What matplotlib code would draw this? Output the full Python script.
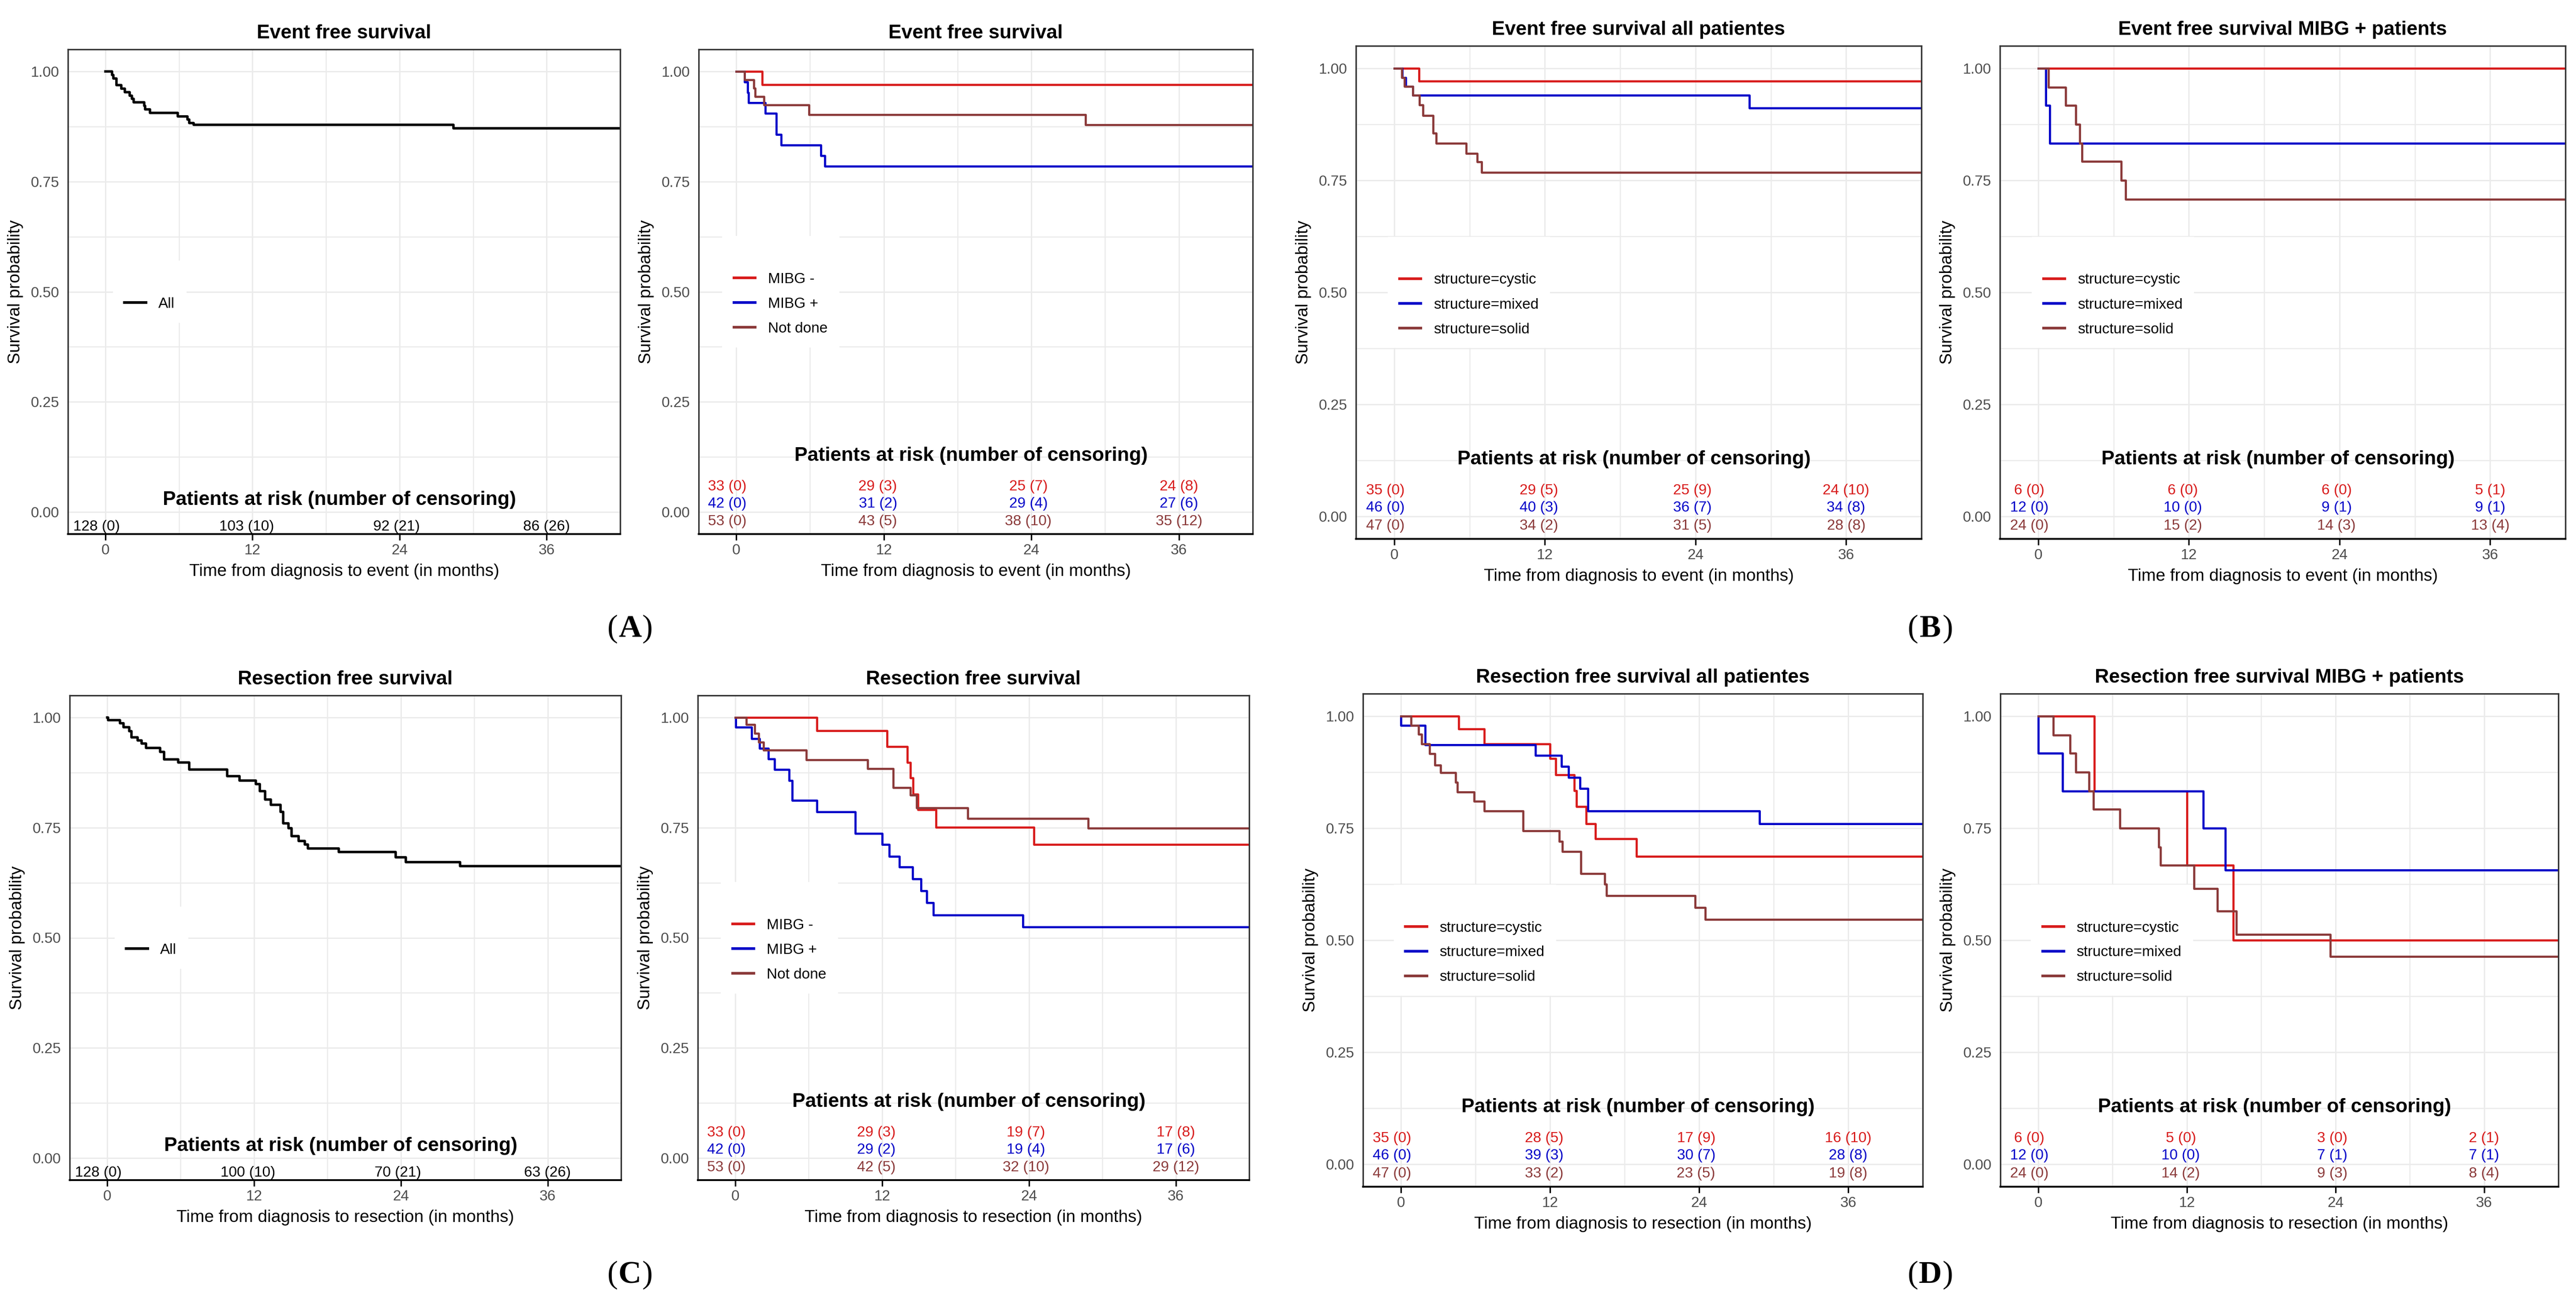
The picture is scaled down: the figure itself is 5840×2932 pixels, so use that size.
import matplotlib
matplotlib.use('Agg')
from matplotlib import pyplot as plt
from matplotlib import transforms

plt.rcParams['font.family'] = ['Liberation Sans', 'DejaVu Sans']

W, H, DPI = 5840, 2932, 200

RED = '#d81c1c'
BLUE = '#0000c8'
BROWN = '#8b3a3a'

MONTHS = [0, 12, 24, 36]

# ---------------- Event free survival ----------------
efs_all_t = [0, 0.55, 0.65, 0.92, 1.32, 1.58, 2.0, 2.15, 2.32, 3.16, 3.26, 3.66, 5.9, 6.7, 6.85, 7.2, 28.4]
efs_all_s = [1, 0.992, 0.984, 0.969, 0.961, 0.953, 0.945, 0.938, 0.930, 0.922, 0.914, 0.906, 0.898, 0.891, 0.883, 0.879, 0.871]

efs_neg_t = [0, 2.1]
efs_neg_s = [1, 0.970]
efs_pos_t = [0, 0.67, 0.93, 1.0, 2.37, 3.27, 3.65, 6.87, 7.2]
efs_pos_s = [1, 0.976, 0.952, 0.929, 0.905, 0.857, 0.833, 0.809, 0.785]
efs_nd_t = [0, 0.67, 1.45, 1.55, 2.27, 5.93, 28.4]
efs_nd_s = [1, 0.981, 0.962, 0.943, 0.924, 0.902, 0.879]

efs_cys_t = [0, 1.96]
efs_cys_s = [1, 0.971]
efs_mix_t = [0, 0.65, 0.92, 1.47, 28.3]
efs_mix_s = [1, 0.979, 0.959, 0.940, 0.911]
efs_sol_t = [0, 0.6, 0.82, 1.47, 2.0, 2.3, 3.1, 3.33, 5.75, 6.6, 6.96]
efs_sol_s = [1, 0.979, 0.959, 0.940, 0.918, 0.895, 0.855, 0.833, 0.810, 0.791, 0.768]

efsp_cys_t = [0]
efsp_cys_s = [1]
efsp_mix_t = [0, 0.6, 0.92]
efsp_mix_s = [1, 0.917, 0.833]
efsp_sol_t = [0, 0.82, 2.2, 3.0, 3.3, 3.5, 6.6, 6.96]
efsp_sol_s = [1, 0.958, 0.917, 0.875, 0.833, 0.792, 0.750, 0.708]

# ---------------- Resection free survival ----------------
rfs_all_t = [0, 0.07, 1.07, 1.33, 1.83, 2.0, 2.5, 2.83, 3.17, 4.33, 4.67, 5.83, 6.73, 9.83, 10.83,
             12.17, 12.5, 12.93, 13.4, 14.17, 14.4, 14.83, 15.07, 15.67, 16.17, 16.4, 18.93, 23.6, 24.43, 28.83]
rfs_all_s = [1, 0.994, 0.987, 0.978, 0.969, 0.955, 0.948, 0.941, 0.931, 0.922, 0.905, 0.898, 0.882, 0.867, 0.857,
             0.849, 0.833, 0.814, 0.802, 0.786, 0.760, 0.749, 0.731, 0.720, 0.712, 0.703, 0.695, 0.683, 0.672, 0.663]

rfs_neg_t = [0, 6.67, 12.4, 14.07, 14.33, 14.53, 14.93, 16.4, 24.4]
rfs_neg_s = [1, 0.970, 0.934, 0.898, 0.863, 0.826, 0.791, 0.751, 0.712]
rfs_pos_t = [0, 0.05, 1.33, 2.0, 2.73, 3.23, 4.4, 4.67, 6.67, 9.83, 12.0, 12.6, 13.43, 14.5, 15.2, 15.67, 16.2, 23.5]
rfs_pos_s = [1, 0.978, 0.952, 0.930, 0.906, 0.882, 0.857, 0.812, 0.786, 0.737, 0.712, 0.685, 0.661, 0.634, 0.607, 0.580, 0.552, 0.525]
rfs_nd_t = [0, 0.93, 1.6, 1.93, 2.33, 5.83, 10.83, 12.93, 14.33, 14.83, 19.0, 28.83]
rfs_nd_s = [1, 0.984, 0.964, 0.944, 0.926, 0.904, 0.884, 0.841, 0.824, 0.795, 0.771, 0.749]

rfs_cys_t = [0, 4.64, 6.72, 11.99, 12.48, 13.97, 14.14, 14.9, 15.66, 18.97]
rfs_cys_s = [1, 0.971, 0.938, 0.905, 0.869, 0.834, 0.798, 0.760, 0.726, 0.687]
rfs_mix_t = [0, 0.02, 1.95, 10.83, 12.91, 13.48, 14.4, 15.07, 28.87]
rfs_mix_s = [1, 0.979, 0.936, 0.912, 0.888, 0.863, 0.838, 0.788, 0.760]
rfs_sol_t = [0, 0.83, 1.42, 1.66, 2.32, 2.72, 3.21, 4.40, 4.54, 5.89, 6.72, 9.83, 12.75, 13.01, 14.5, 16.39, 16.56, 23.68, 24.5]
rfs_sol_s = [1, 0.979, 0.959, 0.938, 0.916, 0.891, 0.874, 0.852, 0.831, 0.810, 0.788, 0.744, 0.720, 0.698, 0.649, 0.625, 0.599, 0.573, 0.546]

rfsp_cys_t = [0, 4.54, 12.0, 15.75]
rfsp_cys_s = [1, 0.833, 0.667, 0.5]
rfsp_mix_t = [0, 0.02, 1.96, 13.33, 15.12]
rfsp_mix_s = [1, 0.917, 0.833, 0.750, 0.656]
rfsp_sol_t = [0, 1.23, 2.59, 3.05, 4.11, 4.48, 6.6, 9.75, 9.88, 12.57, 14.46, 15.99, 23.6]
rfsp_sol_s = [1, 0.958, 0.917, 0.875, 0.833, 0.792, 0.750, 0.708, 0.667, 0.615, 0.565, 0.513, 0.464]

# number at risk (number censored) at 0, 12, 24, 36 months
efs_all_risk = [['128 (0)', '103 (10)', '92 (21)', '86 (26)']]
efs_mibg_risk = [['33 (0)', '29 (3)', '25 (7)', '24 (8)'],
                 ['42 (0)', '31 (2)', '29 (4)', '27 (6)'],
                 ['53 (0)', '43 (5)', '38 (10)', '35 (12)']]
efs_str_risk = [['35 (0)', '29 (5)', '25 (9)', '24 (10)'],
                ['46 (0)', '40 (3)', '36 (7)', '34 (8)'],
                ['47 (0)', '34 (2)', '31 (5)', '28 (8)']]
efsp_str_risk = [['6 (0)', '6 (0)', '6 (0)', '5 (1)'],
                 ['12 (0)', '10 (0)', '9 (1)', '9 (1)'],
                 ['24 (0)', '15 (2)', '14 (3)', '13 (4)']]
rfs_all_risk = [['128 (0)', '100 (10)', '70 (21)', '63 (26)']]
rfs_mibg_risk = [['33 (0)', '29 (3)', '19 (7)', '17 (8)'],
                 ['42 (0)', '29 (2)', '19 (4)', '17 (6)'],
                 ['53 (0)', '42 (5)', '32 (10)', '29 (12)']]
rfs_str_risk = [['35 (0)', '28 (5)', '17 (9)', '16 (10)'],
                ['46 (0)', '39 (3)', '30 (7)', '28 (8)'],
                ['47 (0)', '33 (2)', '23 (5)', '19 (8)']]
rfsp_str_risk = [['6 (0)', '5 (0)', '3 (0)', '2 (1)'],
                 ['12 (0)', '10 (0)', '7 (1)', '7 (1)'],
                 ['24 (0)', '14 (2)', '9 (3)', '8 (4)']]

mibg_labels = ['MIBG -', 'MIBG +', 'Not done']
str_labels = ['structure=cystic', 'structure=mixed', 'structure=solid']
group_colors = [RED, BLUE, BROWN]

fig = plt.figure(figsize=(W / DPI, H / DPI), dpi=DPI)


def km_panel(rect, title, xlabel, curves, labels, colors, risk, leg_x):
    x0, y0, x1, y1 = rect
    ax = fig.add_axes([x0 / W, 1 - y1 / H, (x1 - x0) / W, (y1 - y0) / H])
    ax.set_xlim(-3.05, 42.0)
    ax.set_ylim(-0.05, 1.05)
    ax.set_xticks(MONTHS)
    ax.set_xticks([6, 18, 30], minor=True)
    ax.set_yticks([0, 0.25, 0.5, 0.75, 1.0])
    ax.set_yticklabels(['0.00', '0.25', '0.50', '0.75', '1.00'])
    ax.set_yticks([0.125, 0.375, 0.625, 0.875], minor=True)
    ax.grid(which='major', color='#ebebeb', lw=1.1)
    ax.grid(which='minor', color='#ebebeb', lw=0.9)
    ax.set_axisbelow(True)
    ax.tick_params(axis='y', which='both', length=0, labelsize=12, labelcolor='#4d4d4d', pad=7)
    ax.tick_params(axis='x', which='major', length=5, width=1.2, color='black',
                   labelsize=12, labelcolor='#4d4d4d', pad=3)
    ax.tick_params(axis='x', which='minor', length=0)
    for sp in ax.spines.values():
        sp.set_color('#333333')
        sp.set_linewidth(1.2)
    ax.spines['bottom'].set_color('black')
    ax.spines['bottom'].set_linewidth(1.5)

    lw = 2.0 if len(curves) == 1 else 1.75
    for (t, s), c, lab in zip(curves, colors, labels):
        ax.step(list(t) + [45], list(s) + [s[-1]], where='post', color=c, lw=lw, label=lab)

    leg = ax.legend(loc='center', bbox_to_anchor=(leg_x, 0.5), title=' ', title_fontsize=12,
                    fontsize=12, frameon=True, facecolor='white', edgecolor='none', framealpha=1,
                    fancybox=False, handlelength=1.45, handletextpad=0.85, labelspacing=0.75,
                    borderpad=0.8)
    for h in leg.get_lines():
        h.set_linewidth(2.2)
    leg.set_zorder(5)

    # risk table drawn inside the panel
    if len(risk) == 1:
        rows_y = [-0.033]
        head_y = 0.028
    else:
        rows_y = [0.058, 0.019, -0.021]
        head_y = 0.128
    ax.text(19.1, head_y, 'Patients at risk (number of censoring)', fontsize=16, fontweight='bold',
            ha='center', va='center')
    for row, yy, c in zip(risk, rows_y, colors):
        for m, txt in zip(MONTHS, row):
            ax.text(m * 1.02 - 0.72, yy, txt, fontsize=12, color=c, ha='center', va='center',
                    clip_on=True)

    ax.set_title(title, fontsize=16, fontweight='bold', pad=9)
    ax.set_xlabel(xlabel, fontsize=14, labelpad=5)
    ax.set_ylabel('Survival probability', fontsize=14, labelpad=6)
    return ax


def panel_label(xc, yb, letter):
    fs = 26
    half = 0.722 * fs / 2 + 0.5
    fig.text(xc / W, 1 - yb / H, letter, fontsize=fs, fontweight='bold', family='Liberation Serif',
             ha='center', va='baseline')
    lt = transforms.offset_copy(fig.transFigure, fig=fig, x=-half, y=0, units='points')
    rt = transforms.offset_copy(fig.transFigure, fig=fig, x=half, y=0, units='points')
    fig.text(xc / W, 1 - yb / H, '(', fontsize=fs, family='Liberation Serif', ha='right',
             va='baseline', transform=lt)
    fig.text(xc / W, 1 - yb / H, ')', fontsize=fs, family='Liberation Serif', ha='left',
             va='baseline', transform=rt)


ev_lab = 'Time from diagnosis to event (in months)'
re_lab = 'Time from diagnosis to resection (in months)'

km_panel((154, 112, 1406, 1211), 'Event free survival', ev_lab,
         [(efs_all_t, efs_all_s)], ['All'], ['black'], efs_all_risk, 0.148)
km_panel((1584, 112, 2840, 1211), 'Event free survival', ev_lab,
         [(efs_neg_t, efs_neg_s), (efs_pos_t, efs_pos_s), (efs_nd_t, efs_nd_s)],
         mibg_labels, group_colors, efs_mibg_risk, 0.148)
km_panel((3074, 104, 4356, 1222), 'Event free survival all patientes', ev_lab,
         [(efs_cys_t, efs_cys_s), (efs_mix_t, efs_mix_s), (efs_sol_t, efs_sol_s)],
         str_labels, group_colors, efs_str_risk, 0.2)
km_panel((4534, 104, 5816, 1222), 'Event free survival MIBG + patients', ev_lab,
         [(efsp_cys_t, efsp_cys_s), (efsp_mix_t, efsp_mix_s), (efsp_sol_t, efsp_sol_s)],
         str_labels, group_colors, efsp_str_risk, 0.2)

km_panel((158, 1577, 1408, 2676), 'Resection free survival', re_lab,
         [(rfs_all_t, rfs_all_s)], ['All'], ['black'], rfs_all_risk, 0.148)
km_panel((1582, 1577, 2832, 2676), 'Resection free survival', re_lab,
         [(rfs_neg_t, rfs_neg_s), (rfs_pos_t, rfs_pos_s), (rfs_nd_t, rfs_nd_s)],
         mibg_labels, group_colors, rfs_mibg_risk, 0.148)
km_panel((3090, 1573, 4359, 2691), 'Resection free survival all patientes', re_lab,
         [(rfs_cys_t, rfs_cys_s), (rfs_mix_t, rfs_mix_s), (rfs_sol_t, rfs_sol_s)],
         str_labels, group_colors, rfs_str_risk, 0.2)
km_panel((4535, 1573, 5800, 2691), 'Resection free survival MIBG + patients', re_lab,
         [(rfsp_cys_t, rfsp_cys_s), (rfsp_mix_t, rfsp_mix_s), (rfsp_sol_t, rfsp_sol_s)],
         str_labels, group_colors, rfsp_str_risk, 0.2)

panel_label(1428, 1444, 'A')
panel_label(4376, 1444, 'B')
panel_label(1428, 2909, 'C')
panel_label(4376, 2909, 'D')

fig.savefig('out.png', dpi=DPI, facecolor='white')
